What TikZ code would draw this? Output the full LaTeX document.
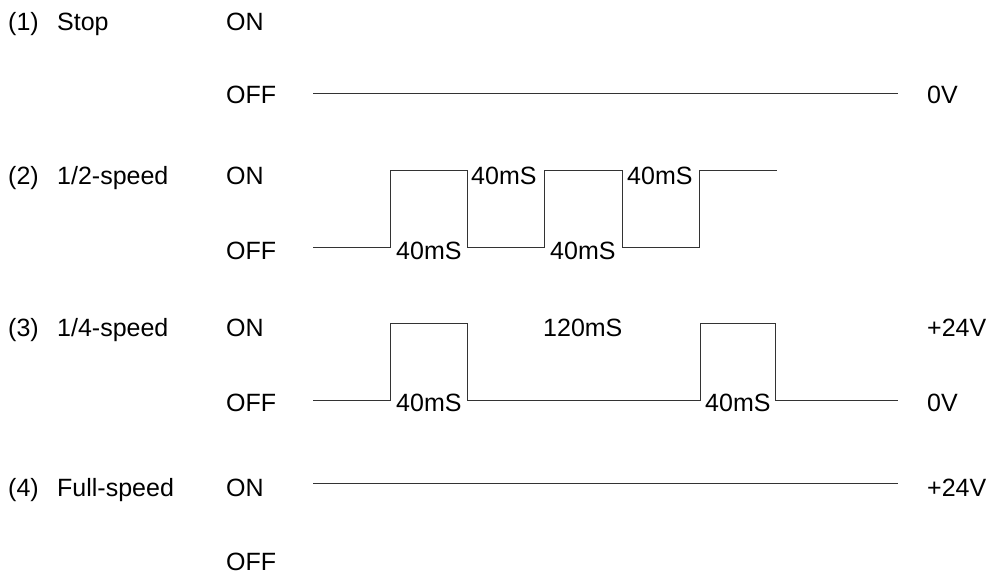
\documentclass[tikz,border=0pt]{standalone}
\usepackage{fontspec}
\setmainfont{Liberation Sans}
\usetikzlibrary{positioning}

\begin{document}
\begin{tikzpicture}[
  x=1pt, y=-1pt,
  lbl/.style={anchor=base west, inner sep=0pt, font=\fontsize{25}{30}\selectfont},
  wave/.style={line width=1pt, black!80}
]
  \useasboundingbox (0,0) rectangle (992,577);

  % Row labels
  \node[lbl] (n1) at (8,30.5) {(1)};
  \node[lbl] (s1) at (57,30.5) {Stop};
  \node[lbl] (n2) at (8,184.5) {(2)};
  \node[lbl] (s2) at (57,184.5) {1/2-speed};
  \node[lbl] (n3) at (8,336.5) {(3)};
  \node[lbl] (s3) at (57,336.5) {1/4-speed};
  \node[lbl] (n4) at (8,496) {(4)};
  \node[lbl] (s4) at (57,496) {Full-speed};

  % ON / OFF levels
  \node[lbl] (on1) at (226,30.5) {ON};
  \node[lbl] (off1) at (226,104) {OFF};
  \node[lbl] (on2) at (226,184.5) {ON};
  \node[lbl] (off2) at (226,259) {OFF};
  \node[lbl] (on3) at (226,336.5) {ON};
  \node[lbl] (off3) at (226,411) {OFF};
  \node[lbl] (on4) at (226,496) {ON};
  \node[lbl] (off4) at (226,570) {OFF};

  % Voltages
  \node[lbl] (v1) at (927,104) {0V};
  \node[lbl] (v3on) at (927,336.5) {+24V};
  \node[lbl] (v3off) at (927,411) {0V};
  \node[lbl] (v4) at (927,496) {+24V};

  % (1) Stop
  \draw[wave] (313,94) -- (898,94);

  % (2) 1/2-speed
  \draw[wave] (313,247) -- (390,247) -- (390,171) -- (467,171) -- (467,247)
    -- (544,247) -- (544,171) -- (622,171) -- (622,247) -- (699,247)
    -- (699,171) -- (777,171);
  \node[lbl] (t2a) at (396,259) {40mS};
  \node[lbl] (t2b) at (471,185) {40mS};
  \node[lbl] (t2c) at (550,259) {40mS};
  \node[lbl] (t2d) at (627,185) {40mS};

  % (3) 1/4-speed
  \draw[wave] (313,400) -- (390,400) -- (390,323) -- (467,323) -- (467,400)
    -- (700,400) -- (700,323) -- (775,323) -- (775,400) -- (898,400);
  \node[lbl] (t3a) at (396,411) {40mS};
  \node[lbl] (t3b) at (543,336.5) {120mS};
  \node[lbl] (t3c) at (705,411) {40mS};

  % (4) Full-speed
  \draw[wave] (313,483) -- (898,483);

\end{tikzpicture}
\end{document}
